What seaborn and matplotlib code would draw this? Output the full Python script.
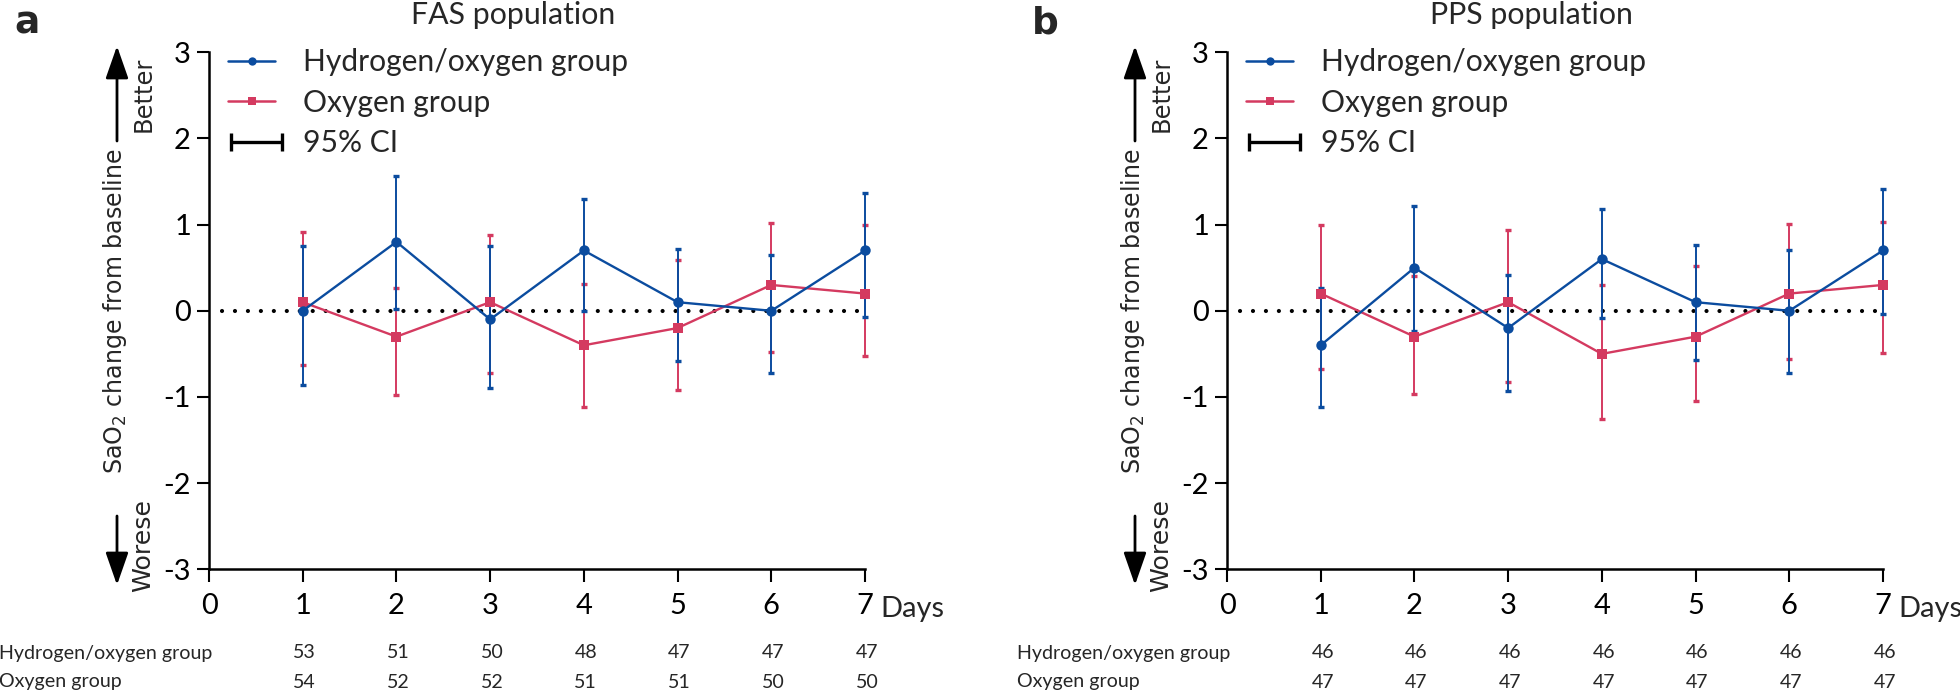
import matplotlib
matplotlib.use("Agg")
import matplotlib.pyplot as plt
from matplotlib.lines import Line2D
from matplotlib.legend_handler import HandlerBase
from matplotlib.patches import FancyArrowPatch
import seaborn as sns
import pandas as pd
import numpy as np

sns.set_theme(style="ticks")
NARROW = ['Lato', 'DejaVu Sans']
WIDE = ['DejaVu Sans']
plt.rcParams['font.family'] = NARROW

days = [1, 2, 3, 4, 5, 6, 7]
xticks = [0, 1, 2, 3, 4, 5, 6, 7]
yticks = [-3, -2, -1, 0, 1, 2, 3]

# Panel a: FAS population
fas_h_mean = [0.0, 0.8, -0.1, 0.7, 0.1, 0.0, 0.7]
fas_h_low = [-0.86, 0.02, -0.90, 0.0, -0.58, -0.72, -0.07]
fas_h_high = [0.75, 1.57, 0.75, 1.30, 0.72, 0.65, 1.37]
fas_o_mean = [0.1, -0.3, 0.1, -0.4, -0.2, 0.3, 0.2]
fas_o_low = [-0.63, -0.98, -0.72, -1.12, -0.92, -0.48, -0.53]
fas_o_high = [0.91, 0.27, 0.88, 0.31, 0.59, 1.02, 0.99]
fas_h_n = [53, 51, 50, 48, 47, 47, 47]
fas_o_n = [54, 52, 52, 51, 51, 50, 50]

# Panel b: PPS population
pps_h_mean = [-0.4, 0.5, -0.2, 0.6, 0.1, 0.0, 0.7]
pps_h_low = [-1.12, -0.23, -0.93, -0.08, -0.57, -0.72, -0.04]
pps_h_high = [0.27, 1.22, 0.42, 1.18, 0.76, 0.70, 1.41]
pps_o_mean = [0.2, -0.3, 0.1, -0.5, -0.3, 0.2, 0.3]
pps_o_low = [-0.68, -0.96, -0.83, -1.25, -1.05, -0.56, -0.49]
pps_o_high = [1.00, 0.40, 0.94, 0.30, 0.52, 1.01, 1.03]
pps_h_n = [46, 46, 46, 46, 46, 46, 46]
pps_o_n = [47, 47, 47, 47, 47, 47, 47]

groups = ["Hydrogen/oxygen group", "Oxygen group"]
BLUE = "#0B4C9F"
RED = "#D43A60"
palette = {groups[0]: BLUE, groups[1]: RED}

W, H = 1960, 693
fig = plt.figure(figsize=(W / 100, H / 100), dpi=100)
renderer = fig.canvas.get_renderer()

AX_TOP, AX_BOT = 52.3, 569.3
AX_W = 656


def fx(px):
    return px / W


def fy(py):
    return 1 - py / H


def fit(text, family, target_px, **kw):
    t = fig.text(0, 0, text, fontsize=20, family=family, **kw)
    w = t.get_window_extent(renderer=renderer).width
    t.remove()
    return 20 * target_px / w


S_LEG = fit("Hydrogen/oxygen group", NARROW, 325)
S_TITLE = fit("FAS population", NARROW, 204)
S_TAB = fit("Hydrogen/oxygen group", NARROW, 213)
S_TICK = S_LEG * 0.97
S_YLAB = fit("SaO$_2$ change from baseline", WIDE, 325)
S_BET = fit("Better", WIDE, 75)
S_WOR = fit("Worese", WIDE, 93)
LEG_PX = S_LEG * 100 / 72


class HandlerCI(HandlerBase):
    def create_artists(self, legend, orig_handle, xdescent, ydescent, width, height,
                       fontsize, trans):
        y = height / 2 - ydescent
        x0, x1 = -xdescent + 2, -xdescent + width + 5
        ch = 6.5
        kw = dict(color="black", lw=2.4, transform=trans, solid_capstyle="butt")
        return [Line2D([x0, x1], [y, y], **kw),
                Line2D([x0, x0], [y - ch, y + ch], **kw),
                Line2D([x1, x1], [y - ch, y + ch], **kw)]


def panel(left_px, letter, title, h_mean, h_low, h_high, o_mean, o_low, o_high, h_n, o_n):
    ax = fig.add_axes([fx(left_px), fy(AX_BOT), AX_W / W, (AX_BOT - AX_TOP) / H])
    df = pd.DataFrame({
        "day": days * 2,
        "value": list(h_mean) + list(o_mean),
        "group": [groups[0]] * 7 + [groups[1]] * 7,
    })
    ax.errorbar(days, o_mean,
                yerr=[np.array(o_mean) - np.array(o_low), np.array(o_high) - np.array(o_mean)],
                fmt="none", ecolor=RED, elinewidth=1.4, capsize=2, capthick=2.4,
                clip_on=False, zorder=2)
    ax.errorbar(days, h_mean,
                yerr=[np.array(h_mean) - np.array(h_low), np.array(h_high) - np.array(h_mean)],
                fmt="none", ecolor=BLUE, elinewidth=1.4, capsize=2, capthick=2.4,
                clip_on=False, zorder=3)
    sns.lineplot(data=df, x="day", y="value", hue="group", style="group",
                 hue_order=groups[::-1], style_order=groups[::-1],
                 palette=palette, markers={groups[0]: "o", groups[1]: "s"},
                 dashes=False, markersize=7.5, markeredgewidth=0, linewidth=1.7,
                 legend=False, ax=ax, zorder=4, clip_on=False)
    ax.axhline(0, xmin=0.02, xmax=1.0, color="black", lw=3.0,
               linestyle=(0, (0.01, 3.1)), dash_capstyle="round", zorder=1)

    ax.set_xlim(0, 7)
    ax.set_ylim(-3, 3)
    ax.set_xticks(xticks)
    ax.set_yticks(yticks)
    ax.set_xticklabels([str(v) for v in xticks], fontsize=S_TICK)
    ax.set_yticklabels([str(v) for v in yticks], fontsize=S_TICK)
    ax.tick_params(axis="both", length=9, width=1.5, colors="black", pad=4)
    ax.tick_params(axis="x", pad=8)
    for s in ["top", "right"]:
        ax.spines[s].set_visible(False)
    for s in ["left", "bottom"]:
        ax.spines[s].set_linewidth(1.8)
        ax.spines[s].set_color("black")
    ax.set_xlabel("")
    ax.set_ylabel("")

    fig.text(fx(left_px + AX_W + 15), fy(609), "Days", fontsize=S_TICK,
             ha="left", va="center", family=NARROW)

    h1 = Line2D([], [], color=BLUE, marker="o", markersize=6, lw=1.8, markeredgewidth=0)
    h2 = Line2D([], [], color=RED, marker="s", markersize=6, lw=1.8, markeredgewidth=0)
    h3 = Line2D([], [], color="black")
    ax.legend([h1, h2, h3], groups + ["95% CI"], loc="upper left",
              bbox_to_anchor=(0.029, 1.008), frameon=False, fontsize=S_LEG,
              handlelength=47 / LEG_PX, handletextpad=28 / LEG_PX, labelspacing=0.42,
              borderpad=0, borderaxespad=0, handler_map={h3: HandlerCI()})

    fig.text(fx(left_px - 182), fy(24), letter, fontsize=27, fontweight="bold",
             ha="center", va="center", family="DejaVu Sans")
    fig.text(fx(left_px + 304), fy(15), title, fontsize=S_TITLE, ha="center", va="center",
             family=NARROW)

    fig.text(fx(left_px - 94), fy(311), "SaO$_2$ change from baseline", rotation=90,
             fontsize=S_YLAB, ha="center", va="center", family=WIDE)
    fig.text(fx(left_px - 65), fy(94), "Better", rotation=90, fontsize=S_BET,
             ha="center", va="center", family=WIDE)
    fig.text(fx(left_px - 66), fy(545), "Worese", rotation=90, fontsize=S_WOR,
             ha="center", va="center", family=WIDE)
    for (ya, yb) in [(141, 46), (516, 585)]:
        fig.add_artist(FancyArrowPatch(
            (fx(left_px - 92), fy(ya)), (fx(left_px - 92), fy(yb)),
            transform=fig.transFigure, arrowstyle="-|>,head_width=7,head_length=20",
            color="black", lw=2, mutation_scale=1, shrinkA=0, shrinkB=0))

    fig.text(fx(left_px - 210), fy(653), groups[0], fontsize=S_TAB, ha="left", va="center",
             family=NARROW)
    fig.text(fx(left_px - 210), fy(682), groups[1], fontsize=S_TAB, ha="left", va="center",
             family=NARROW)
    for d, n1, n2 in zip(days, h_n, o_n):
        xp = ax.transData.transform((d, 0))[0] / W + 0.001
        fig.text(xp, fy(653), str(n1), fontsize=S_TAB, ha="center", va="center",
                 family=NARROW)
        fig.text(xp, fy(682), str(n2), fontsize=S_TAB, ha="center", va="center",
                 family=NARROW)
    return ax


panel(209, "a", "FAS population", fas_h_mean, fas_h_low, fas_h_high,
      fas_o_mean, fas_o_low, fas_o_high, fas_h_n, fas_o_n)
panel(1227, "b", "PPS population", pps_h_mean, pps_h_low, pps_h_high,
      pps_o_mean, pps_o_low, pps_o_high, pps_h_n, pps_o_n)

fig.savefig("out.png", dpi=100, facecolor="white")
